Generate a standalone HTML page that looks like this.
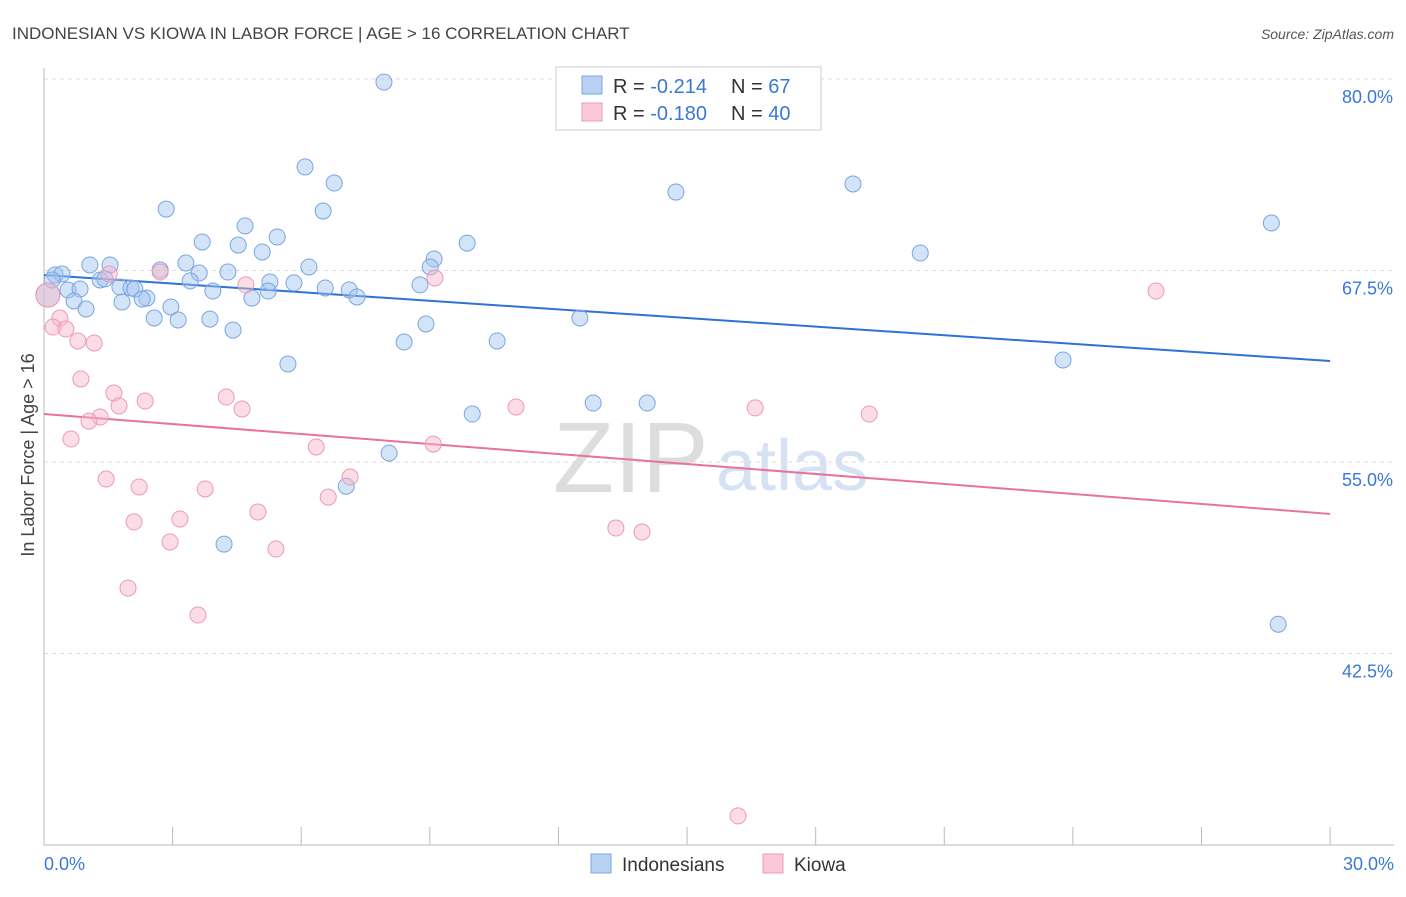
<!DOCTYPE html>
<html><head><meta charset="utf-8"><style>
body{margin:0;background:#fff;font-family:"Liberation Sans",sans-serif}
svg text{font-family:"Liberation Sans",sans-serif}
</style></head><body>
<svg id="chart" width="1406" height="892">
<text x="12" y="39" font-size="17" fill="#444">INDONESIAN VS KIOWA IN LABOR FORCE | AGE &gt; 16 CORRELATION CHART</text>
<text x="1394" y="39" font-size="14" fill="#555" font-style="italic" text-anchor="end">Source: ZipAtlas.com</text>
<text x="553" y="492" font-size="100" fill="#ddd" font-family="Liberation Serif">ZIP</text>
<text x="716" y="490" font-size="72" fill="#d6e2f3">atlas</text>
<g id="grid"></g><g id="lines"></g><g id="pts"></g>
<text transform="translate(34,455) rotate(-90)" font-size="18" fill="#444" text-anchor="middle">In Labor Force | Age &gt; 16</text>
<text x="44" y="870" font-size="18" fill="#3a78d6">0.0%</text>
<text x="1394" y="870" font-size="18" fill="#3a78d6" text-anchor="end">30.0%</text>
<g>
<rect x="556" y="67" width="265" height="63" fill="#fff" stroke="#ccc"/>
<rect x="582" y="76" width="20" height="18" fill="#b9d2f4" stroke="#7aa6e0"/>
<rect x="582" y="103" width="20" height="18" fill="#fac8d7" stroke="#eb9ab5"/>
<text x="613" y="93" font-size="20" fill="#333">R = <tspan fill="#3a78d6">-0.214</tspan><tspan x="731">N = </tspan><tspan fill="#3a78d6">67</tspan></text>
<text x="613" y="120" font-size="20" fill="#333">R = <tspan fill="#3a78d6">-0.180</tspan><tspan x="731">N = </tspan><tspan fill="#3a78d6">40</tspan></text>
</g>
<g>
<rect x="591" y="854" width="20" height="19" fill="#b9d2f4" stroke="#7aa6e0"/>
<text x="622" y="871" font-size="19" fill="#333">Indonesians</text>
<rect x="763" y="854" width="20" height="19" fill="#fac8d7" stroke="#eb9ab5"/>
<text x="794" y="871" font-size="19" fill="#333">Kiowa</text>
</g>
</svg>
<script>
const yTicks=[80,67.5,55,42.5];
const yTickLabels=["80.0%","67.5%","55.0%","42.5%"];
const xTicks=[0,3,6,9,12,15,18,21,24,27,30];
const blueX=[7.93,6.09,6.77,2.85,6.51,4.69,14.74,18.87,28.63,3.69,4.53,5.09,5.44,9.87,9.10,20.44,1.07,1.54,3.31,2.71,3.62,4.29,6.18,9.01,0.26,0.42,1.31,1.42,3.41,5.27,5.83,6.56,7.12,8.77,5.23,3.94,0.19,0.56,0.84,1.77,2.03,2.12,2.40,2.29,0.70,1.82,4.85,7.30,0.98,2.96,2.57,3.13,3.87,4.41,8.91,12.50,8.40,10.57,5.69,23.77,9.99,12.81,14.07,8.05,7.05,4.20,28.79,0.09];
const blueY=[79.80,74.26,73.21,71.51,71.38,70.41,72.62,73.15,70.60,69.36,69.16,68.71,69.69,69.29,68.25,68.64,67.86,67.86,67.99,67.53,67.34,67.40,67.73,67.73,67.21,67.27,66.88,66.95,66.82,66.75,66.69,66.36,66.23,66.56,66.16,66.16,66.88,66.23,66.29,66.42,66.36,66.29,65.70,65.64,65.51,65.44,65.70,65.77,64.99,65.12,64.40,64.27,64.33,63.61,64.01,64.40,62.83,62.90,61.40,61.66,58.13,58.85,58.85,55.58,53.42,49.64,44.41,65.90];
const pinkX=[16.19,25.94,1.52,2.71,4.71,9.12,0.37,0.21,0.51,0.79,1.17,0.86,1.63,2.36,4.25,4.62,1.75,1.31,1.05,0.63,6.35,9.08,11.01,16.59,19.25,1.45,2.22,3.76,7.14,6.63,4.99,2.10,3.17,2.94,5.41,13.34,13.95,1.96,3.59,0.09];
const pinkY=[31.90,66.16,67.27,67.40,66.56,67.01,64.40,63.81,63.68,62.90,62.77,60.42,59.50,58.98,59.24,58.46,58.66,57.94,57.67,56.50,55.98,56.17,58.59,58.53,58.13,53.89,53.37,53.24,54.02,52.71,51.74,51.09,51.28,49.78,49.32,50.69,50.43,46.77,45.01,65.90];
const blueTrend=[67.21,61.59];
const pinkTrend=[58.13,51.61];
const X=v=>44+v*42.87, Y=v=>79+(80-v)*15.32;
const NS="http://www.w3.org/2000/svg";
function mk(t,a,p){const e=document.createElementNS(NS,t);for(const k in a)e.setAttribute(k,a[k]);p.appendChild(e);return e;}
const g=document.getElementById('grid');
yTicks.forEach((t,i)=>{
 const l=mk('line',{x1:44,x2:1394,y1:Y(t),y2:Y(t),stroke:'#ddd','stroke-dasharray':'4,4'},g);
 
 
 const tx=mk('text',{x:1393,y:Y(t)+24,'font-size':18,fill:'#3a78d6','text-anchor':'end'},g);
 tx.textContent=yTickLabels[i];
 
 
});
const ax=mk('line',{x1:44,x2:1394,y1:845,y2:845,stroke:'#bbb'},g);


const ay=mk('line',{x1:44,x2:44,y1:68,y2:845,stroke:'#bbb'},g);


xTicks.forEach(t=>{
 const l=mk('line',{x1:X(t),x2:X(t),y1:827,y2:845,stroke:'#bbb'},g);
 
 
});
const P=document.getElementById('pts');
function pts(xs,ys,fill,stroke,name){xs.forEach((x,i)=>{
 const big=(i===xs.length-1);
 const c=mk('circle',{cx:X(x),cy:Y(ys[i]),r:big?12:8,fill:fill,stroke:stroke,'stroke-width':1},P);
 
 
});}
pts(blueX,blueY,'rgba(160,196,240,0.45)','#7aa6e0','indonesian-point');
pts(pinkX,pinkY,'rgba(248,180,200,0.45)','#eb9ab5','kiowa-point');
const L=document.getElementById('lines');
const bl=mk('line',{x1:X(0),x2:X(30),y1:Y(blueTrend[0]),y2:Y(blueTrend[1]),stroke:'#2e72d2','stroke-width':2},L);


const pl=mk('line',{x1:X(0),x2:X(30),y1:Y(pinkTrend[0]),y2:Y(pinkTrend[1]),stroke:'#e8729a','stroke-width':2},L);


</script>
</body></html>
